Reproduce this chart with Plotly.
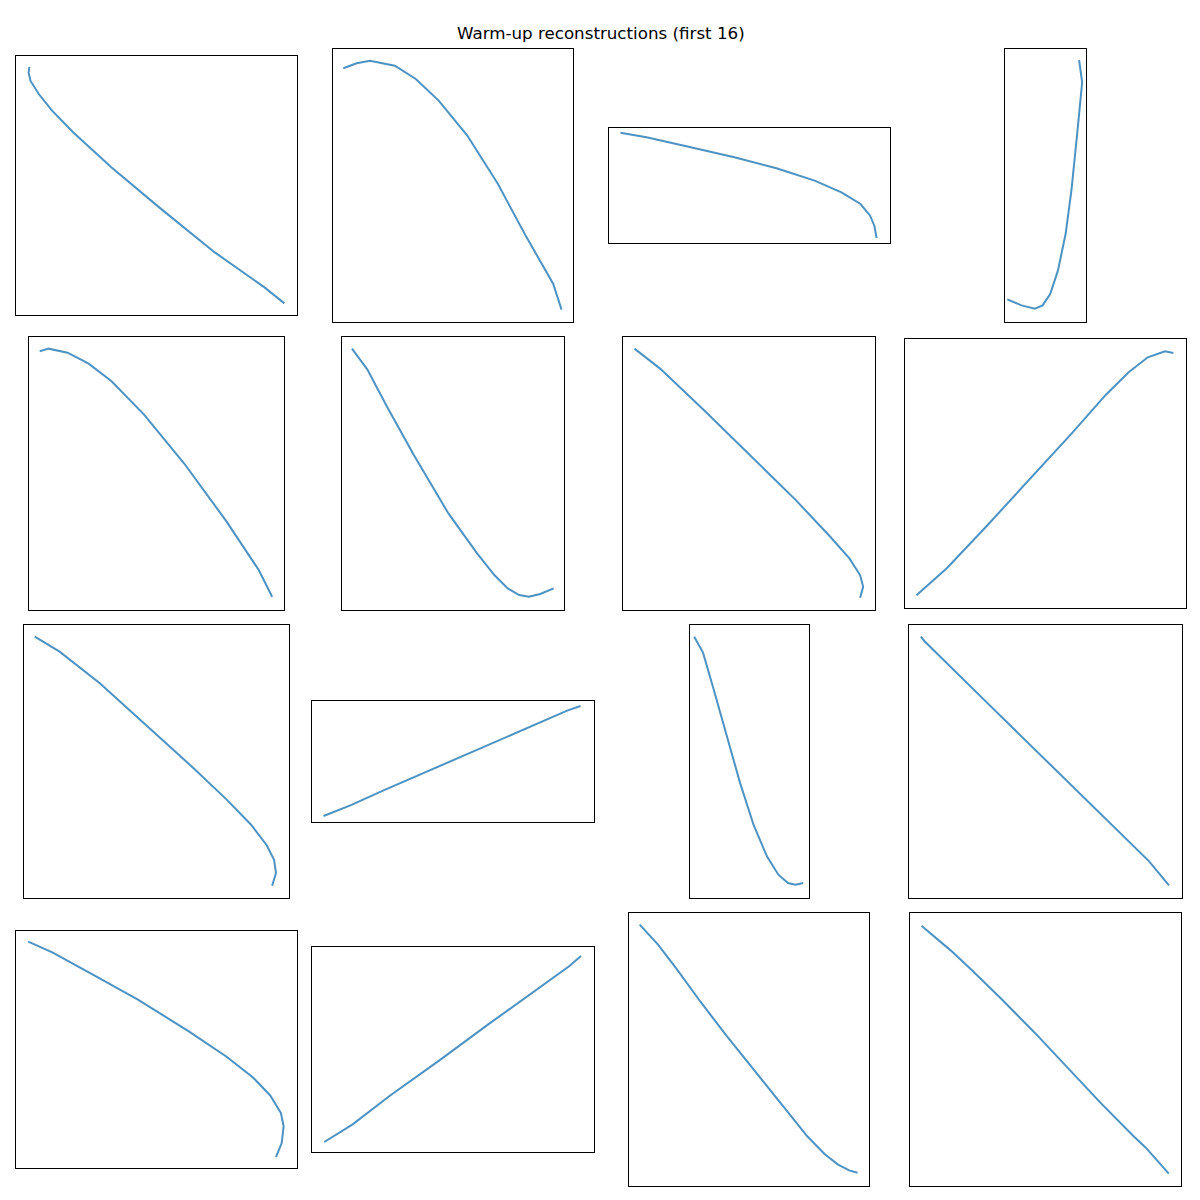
import plotly.graph_objects as go

# ---- data: 16 reconstructed curves (panel-local units, no axes shown) ----
p1_x = [35, 33, 38, 60, 95, 150, 250, 380, 520, 650, 702]
p1_y = [745, 728, 703, 663, 613, 548, 443, 318, 188, 83, 35]

p2_x = [27, 62, 97, 162, 217, 277, 352, 432, 507, 577, 599]
p2_y = [762, 777, 785, 770, 730, 665, 560, 415, 255, 115, 37]

p3_x = [30, 98, 208, 328, 438, 538, 608, 658, 683, 694, 700]
p3_y = [331, 317, 289, 257, 224, 187, 152, 117, 82, 52, 15]

p4_x = [6, 43, 78, 98, 118, 138, 158, 173, 188, 201, 193]
p4_y = [68, 50, 40, 50, 85, 155, 265, 395, 565, 720, 787]

p5_x = [28, 51, 101, 156, 216, 301, 406, 516, 601, 636]
p5_y = [777, 785, 773, 740, 687, 587, 440, 267, 120, 40]

p6_x = [26, 66, 118, 188, 278, 353, 398, 433, 463, 488, 518, 553]
p6_y = [785, 723, 610, 465, 290, 170, 105, 65, 45, 40, 48, 65]

p7_x = [30, 97, 212, 342, 452, 542, 592, 620, 628, 620]
p7_y = [785, 725, 600, 455, 330, 220, 155, 105, 70, 37]

p8_x = [30, 110, 215, 335, 435, 525, 585, 635, 680, 702]
p8_y = [38, 120, 248, 398, 523, 640, 708, 753, 771, 766]

p9_x = [28, 93, 198, 318, 438, 528, 593, 633, 653, 658, 648]
p9_y = [785, 740, 645, 520, 395, 297, 220, 160, 115, 75, 37]

p10_x = [30, 100, 185, 285, 385, 485, 585, 665, 700]
p10_y = [18, 50, 94, 144, 196, 246, 296, 334, 348]

p11_x = [11, 34, 61, 96, 131, 166, 201, 231, 256, 276, 296]
p11_y = [785, 737, 630, 485, 345, 220, 125, 70, 45, 40, 45]

p12_x = [31, 40, 210, 345, 502, 628, 680]
p12_y = [785, 772, 580, 428, 253, 110, 38]

p13_x = [32, 95, 200, 320, 450, 550, 620, 665, 693, 700, 695, 680]
p13_y = [680, 648, 582, 505, 412, 335, 272, 218, 165, 125, 75, 33]

p14_x = [32, 106, 202, 332, 462, 593, 671, 701]
p14_y = [30, 83, 168, 275, 385, 495, 558, 588]

p15_x = [28, 76, 126, 186, 256, 336, 416, 466, 511, 546, 576, 598]
p15_y = [785, 725, 650, 555, 450, 335, 220, 150, 97, 65, 47, 40]

p16_x = [30, 107, 160, 238, 325, 412, 500, 587, 617, 677]
p16_y = [782, 707, 650, 563, 462, 357, 248, 147, 115, 37]

curves = [(p1_x, p1_y), (p2_x, p2_y), (p3_x, p3_y), (p4_x, p4_y),
          (p5_x, p5_y), (p6_x, p6_y), (p7_x, p7_y), (p8_x, p8_y),
          (p9_x, p9_y), (p10_x, p10_y), (p11_x, p11_y), (p12_x, p12_y),
          (p13_x, p13_y), (p14_x, p14_y), (p15_x, p15_y), (p16_x, p16_y)]

# ---- layout: panel boxes in page pixels (left, top, right, bottom) and data extents ----
boxes = [(15, 55, 296, 314), (332, 48, 572, 321), (608, 127, 889, 242), (1004, 48, 1085, 321),
         (28, 336, 283, 609), (341, 336, 563, 609), (622, 336, 874, 609), (904, 338, 1185, 607),
         (23, 624, 288, 897), (311, 700, 593, 821), (689, 624, 808, 897), (908, 624, 1181, 897),
         (15, 930, 296, 1167), (311, 946, 593, 1151), (628, 912, 868, 1185), (909, 912, 1180, 1185)]
extents = [(735, 778), (629, 820), (735, 345), (211, 820),
           (667, 820), (580, 820), (659, 820), (735, 808),
           (692, 820), (735, 363), (311, 820), (714, 820),
           (735, 712), (735, 615), (628, 820), (709, 820)]

OFF = 7          # page body offset
W = H = 1186     # figure size inside the 1200 px window
fig = go.Figure()
layout = dict(width=W, height=H, margin=dict(l=0, r=0, t=0, b=0),
              paper_bgcolor="white", plot_bgcolor="white", showlegend=False)

for i, ((xs, ys), (l, t, r, b), (ew, eh)) in enumerate(zip(curves, boxes, extents)):
    k = "" if i == 0 else str(i + 1)
    fig.add_trace(go.Scatter(x=xs, y=ys, mode="lines", xaxis="x" + k, yaxis="y" + k,
                             line=dict(color="rgba(31,119,180,0.8)", width=2),
                             hoverinfo="skip"))
    ax = dict(showline=True, linecolor="black", linewidth=1, mirror=True,
              showticklabels=False, ticks="", showgrid=False, zeroline=False,
              fixedrange=True)
    layout["xaxis" + k] = dict(ax, domain=[(l - OFF) / W, (r - OFF) / W], range=[0, ew],
                               anchor="y" + k)
    layout["yaxis" + k] = dict(ax, domain=[1 - (b - OFF) / H, 1 - (t - OFF) / H],
                               range=[0, eh], anchor="x" + k)

layout["annotations"] = [dict(text="Warm-up reconstructions (first 16)",
                              x=(600 - OFF) / W, y=1 - (32 - OFF) / H,
                              xref="paper", yref="paper", showarrow=False,
                              xanchor="center", yanchor="middle",
                              font=dict(family="DejaVu Sans", size=16.7, color="black"))]
fig.update_layout(**layout)
fig.write_html("out.html")
